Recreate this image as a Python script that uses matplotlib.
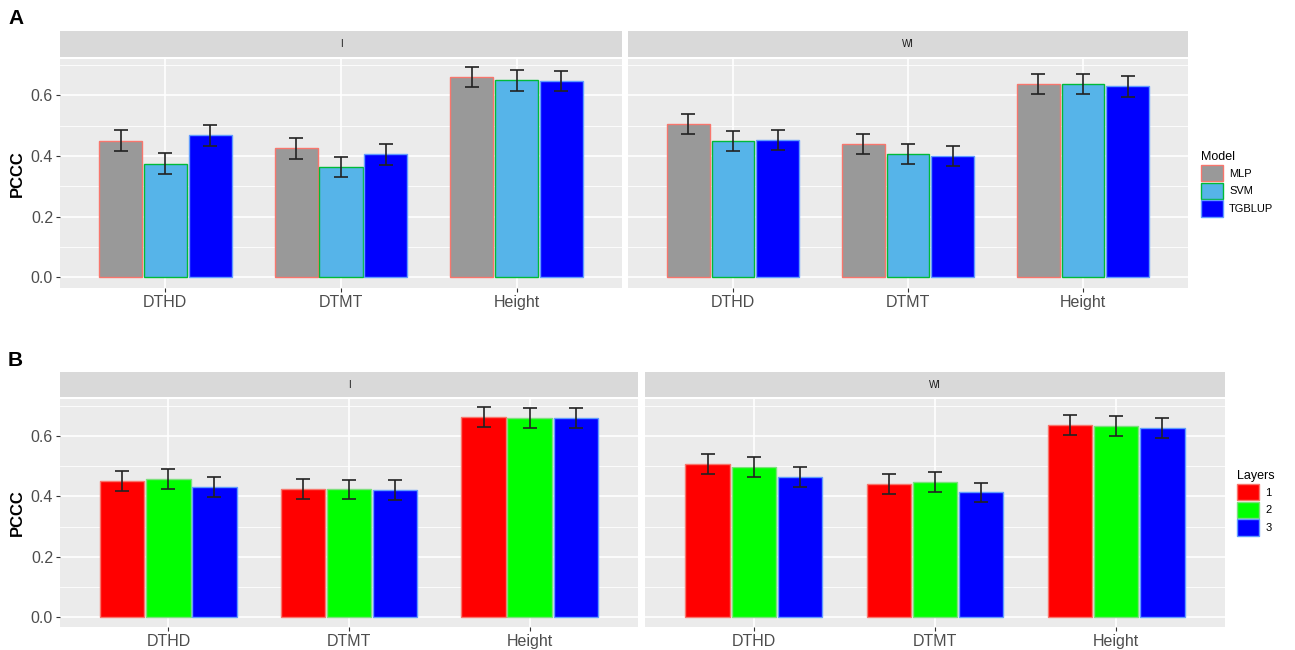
import numpy as np
import matplotlib
matplotlib.use("Agg")
import matplotlib.pyplot as plt
from matplotlib.patches import Patch

plt.rcParams['font.family'] = ['Liberation Sans', 'DejaVu Sans']

traits = ['DTHD', 'DTMT', 'Height']
envs = ['I', 'WI']

# panel A: model comparison
models = ['MLP', 'SVM', 'TGBLUP']
model_I = {'MLP': [0.450, 0.425, 0.660],
           'SVM': [0.375, 0.363, 0.650],
           'TGBLUP': [0.468, 0.405, 0.647]}
model_WI = {'MLP': [0.505, 0.439, 0.637],
            'SVM': [0.449, 0.406, 0.637],
            'TGBLUP': [0.452, 0.400, 0.630]}
model_err = 0.034

# panel B: number of hidden layers
layers = ['1', '2', '3']
layer_I = {'1': [0.450, 0.425, 0.663],
           '2': [0.457, 0.423, 0.660],
           '3': [0.432, 0.422, 0.660]}
layer_WI = {'1': [0.507, 0.440, 0.638],
            '2': [0.497, 0.447, 0.632],
            '3': [0.464, 0.413, 0.627]}
layer_err = 0.033

model_fill = ['#999999', '#56B4E9', '#0000FF']
model_edge = ['#F8766D', '#00BA38', '#619CFF']
layer_fill = ['#FF0000', '#00FF00', '#0000FF']
layer_edge = ['#F8766D', '#7CE07C', '#619CFF']

W, H = 1295, 650
fig = plt.figure(figsize=(W / 100, H / 100), dpi=100)


def px_axes(x0, y0, x1, y1):
    return fig.add_axes([x0 / W, 1 - y1 / H, (x1 - x0) / W, (y1 - y0) / H])


def facet(x0, x1, strip_top, strip_bot, y1, ylim, label, data, keys, fills, edges, err, left):
    st = px_axes(x0, strip_top, x1, strip_bot)
    st.set_facecolor('#D9D9D9')
    st.set_xticks([]); st.set_yticks([])
    for s in st.spines.values():
        s.set_visible(False)
    st.text(0.5, 0.5, label, ha='center', va='center', fontsize=7, color='#1A1A1A',
            transform=st.transAxes)

    ax = px_axes(x0, strip_bot + 2, x1, y1)
    ax.set_facecolor('#EBEBEB')
    for s in ax.spines.values():
        s.set_visible(False)
    x = np.arange(1, len(traits) + 1)
    bw = 0.245
    for i, k in enumerate(keys):
        xi = x + (i - 1) * 0.255
        ax.bar(xi, data[k], width=bw, color=fills[i], edgecolor=edges[i], linewidth=1.0, zorder=3)
        ax.errorbar(xi, data[k], yerr=err, fmt='none', ecolor='#222222', elinewidth=1.2,
                    capsize=5, capthick=1.2, zorder=4)
    ax.set_xlim(0.4, 3.6)
    ax.set_ylim(*ylim)
    ax.set_yticks([0.0, 0.2, 0.4, 0.6])
    ax.set_yticks([0.1, 0.3, 0.5, 0.7], minor=True)
    ax.set_xticks(x)
    ax.set_xticklabels(traits, fontsize=11.5, color='#4D4D4D')
    ax.grid(True, which='major', color='white', linewidth=1.2, zorder=0)
    ax.grid(True, which='minor', axis='y', color='white', linewidth=0.6, zorder=0)
    ax.tick_params(which='minor', length=0)
    ax.tick_params(axis='both', which='major', length=3, color='#333333', pad=2)
    if left:
        ax.set_yticklabels(['0.0', '0.2', '0.4', '0.6'], fontsize=11.5, color='#4D4D4D')
        ax.set_ylabel('PCCC', fontsize=12, fontweight='bold', labelpad=4)
    else:
        ax.tick_params(axis='y', labelleft=False, length=0)
    return ax


# panel A
facet(60, 622, 31, 57, 288, (-0.036, 0.72), 'I', model_I, models, model_fill, model_edge, model_err, True)
facet(628, 1188, 31, 57, 288, (-0.036, 0.72), 'WI', model_WI, models, model_fill, model_edge, model_err, False)
# panel B
facet(60, 638, 372, 397, 627, (-0.033, 0.723), 'I', layer_I, layers, layer_fill, layer_edge, layer_err, True)
facet(645, 1225, 372, 397, 627, (-0.033, 0.723), 'WI', layer_WI, layers, layer_fill, layer_edge, layer_err, False)

fig.text(8 / W, 1 - 18 / H, 'A', fontsize=15, fontweight='bold', va='center')
fig.text(8 / W, 1 - 360 / H, 'B', fontsize=15, fontweight='bold', va='center')

leg_kw = dict(loc='upper left', frameon=False, fontsize=8, title_fontsize=9,
              handlelength=1.9, handleheight=1.9, labelspacing=0.12,
              handletextpad=0.6, alignment='left', borderaxespad=0)
handles_a = [Patch(facecolor=f, edgecolor=e, label=m) for f, e, m in zip(model_fill, model_edge, models)]
fig.legend(handles=handles_a, title='Model', bbox_to_anchor=(1197 / W, 1 - 147 / H), **leg_kw)
handles_b = [Patch(facecolor=f, edgecolor=e, label=m) for f, e, m in zip(layer_fill, layer_edge, layers)]
fig.legend(handles=handles_b, title='Layers', bbox_to_anchor=(1233 / W, 1 - 466 / H), **leg_kw)

fig.savefig('out.png', dpi=100)
